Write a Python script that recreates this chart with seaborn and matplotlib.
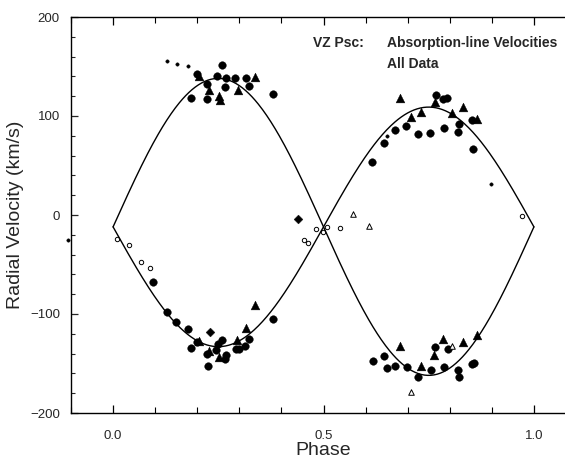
import numpy as np
import pandas as pd
import matplotlib
matplotlib.use("Agg")
import matplotlib.pyplot as plt
import seaborn as sns
from matplotlib.ticker import MultipleLocator, FixedLocator

# ---------------- data ----------------
# large filled circles
circ_phase = [0.259, 0.200, 0.246, 0.268, 0.290, 0.315, 0.223, 0.266, 0.323, 0.186, 0.223, 0.381,
              0.096, 0.128, 0.150, 0.179, 0.200, 0.186, 0.258, 0.250, 0.245, 0.222, 0.265, 0.268,
              0.225, 0.291, 0.299, 0.314, 0.323, 0.379,
              0.767, 0.785, 0.794, 0.822, 0.852, 0.697, 0.669, 0.644, 0.725, 0.753, 0.786, 0.819,
              0.856, 0.615,
              0.617, 0.644, 0.651, 0.670, 0.698, 0.725, 0.755, 0.787, 0.820, 0.822, 0.853, 0.858,
              0.766, 0.795]
circ_vel = [151.5, 142.4, 140.9, 137.9, 138.7, 137.9, 132.8, 128.8, 129.8, 117.7, 117.2, 122.7,
            -68.0, -97.7, -107.8, -115.5, -127.8, -134.0, -125.8, -129.8, -136.4, -140.1, -145.5, -141.9,
            -152.5, -135.7, -135.7, -132.8, -124.9, -105.1,
            121.7, 117.2, 117.7, 91.9, 96.3, 89.7, 85.9, 72.9, 81.6, 83.3, 87.6, 84.0,
            66.5, 53.8,
            -147.2, -142.4, -154.2, -153.0, -153.2, -163.6, -156.9, -154.0, -156.3, -163.9, -150.5, -149.8,
            -133.0, -135.4]

# filled triangles
tri_phase = [0.205, 0.338, 0.229, 0.297, 0.251, 0.254,
             0.204, 0.229, 0.252, 0.294, 0.317, 0.337,
             0.682, 0.764, 0.831, 0.731, 0.709, 0.805, 0.865,
             0.682, 0.731, 0.763, 0.785, 0.831, 0.864]
tri_vel = [139.9, 139.7, 125.8, 126.3, 120.2, 116.2,
           -127.3, -137.4, -143.7, -126.6, -114.1, -90.9,
           117.9, 114.1, 109.3, 104.3, 99.0, 103.5, 97.0,
           -132.3, -152.2, -141.4, -125.5, -128.6, -121.2]

# small filled dots
dot_phase = [0.128, 0.152, 0.178, 0.650, 0.897, -0.108]
dot_vel = [155.6, 153.0, 150.5, 79.3, 31.6, -25.0]

# small open circles
ocirc_phase = [0.009, 0.039, 0.067, 0.088, 0.454, 0.463, 0.482, 0.498, 0.509, 0.539, 0.971]
ocirc_vel = [-24.5, -30.0, -47.2, -53.8, -25.6, -28.0, -14.4, -17.2, -11.8, -12.8, -1.3]

# open triangles
otri_phase = [0.570, 0.609, 0.708, 0.806]
otri_vel = [1.0, -10.8, -178.5, -132.0]

# filled diamonds
dia_phase = [0.230, 0.440]
dia_vel = [-118.4, -4.0]

# orbital solution drawn as the two curves
GAMMA = -12.0
K_PRIMARY = 150.0
K_SECONDARY = 121.0
curve_phase = np.linspace(0.0, 1.0, 401)

# ---------------- plot ----------------
sns.set_theme(style="ticks")
plt.rcParams['font.family'] = ['Liberation Sans', 'DejaVu Sans']

fig = plt.figure(figsize=(5.65, 4.58), dpi=100)
ax = fig.add_axes([71 / 565, 1 - 413 / 458, (576 - 71) / 565, 396 / 458])

curves = pd.DataFrame({
    "phase": np.concatenate([curve_phase, curve_phase]),
    "vel": np.concatenate([GAMMA + K_PRIMARY * np.sin(2 * np.pi * curve_phase),
                           GAMMA - K_SECONDARY * np.sin(2 * np.pi * curve_phase)]),
    "star": ["A"] * len(curve_phase) + ["B"] * len(curve_phase),
})
sns.lineplot(data=curves, x="phase", y="vel", units="star", estimator=None, sort=False,
             color="black", linewidth=1.0, ax=ax)

sns.scatterplot(x=circ_phase, y=circ_vel, marker="o", s=30, color="black", edgecolor="black",
                linewidth=0.3, ax=ax)
sns.scatterplot(x=tri_phase, y=tri_vel, marker="^", s=40, color="black", edgecolor="black",
                linewidth=0.3, ax=ax)
sns.scatterplot(x=dot_phase, y=dot_vel, marker="o", s=6, color="black", edgecolor="black",
                linewidth=0.3, ax=ax, clip_on=False)
sns.scatterplot(x=ocirc_phase, y=ocirc_vel, marker="o", s=10, facecolor="white", edgecolor="black",
                linewidth=0.7, ax=ax)
sns.scatterplot(x=otri_phase, y=otri_vel, marker="^", s=16, facecolor="white", edgecolor="black",
                linewidth=0.7, ax=ax)
sns.scatterplot(x=dia_phase, y=dia_vel, marker="D", s=20, color="black", edgecolor="black",
                linewidth=0.3, ax=ax)

ax.set_xlim(-0.1, 1.1)
ax.set_ylim(-200, 200)

ax.xaxis.set_major_locator(FixedLocator([0.0, 0.5, 1.0]))
ax.xaxis.set_minor_locator(MultipleLocator(0.1))
ax.set_xticklabels(["0.0", "0.5", "1.0"])
ax.yaxis.set_major_locator(MultipleLocator(100))
ax.yaxis.set_minor_locator(MultipleLocator(20))

ax.tick_params(axis="x", which="both", direction="in", top=True, bottom=True, color="black",
               labelsize=9.5, pad=12)
ax.tick_params(axis="x", which="major", length=6, width=0.9)
ax.tick_params(axis="x", which="minor", length=4, width=0.8)
ax.tick_params(axis="y", which="both", direction="in", left=True, right=False, labelsize=9.5, pad=8)
ax.tick_params(axis="y", which="major", length=5, width=0.9)
ax.tick_params(axis="y", which="minor", length=3, width=0.8)

for sp in ax.spines.values():
    sp.set_color("black")
    sp.set_linewidth(1.0)

ax.set_xlabel("Phase", fontsize=14, labelpad=0)
ax.set_ylabel("Radial Velocity (km/s)", fontsize=14, labelpad=4)

ax.text(0.476, 174, "VZ Psc:", fontsize=10, fontweight="bold", va="center", ha="left")
ax.text(0.650, 174, "Absorption-line Velocities", fontsize=10, fontweight="bold",
        va="center", ha="left", clip_on=False)
ax.text(0.650, 153, "All Data", fontsize=10, fontweight="bold", va="center", ha="left")

fig.savefig("out.png", dpi=100)
